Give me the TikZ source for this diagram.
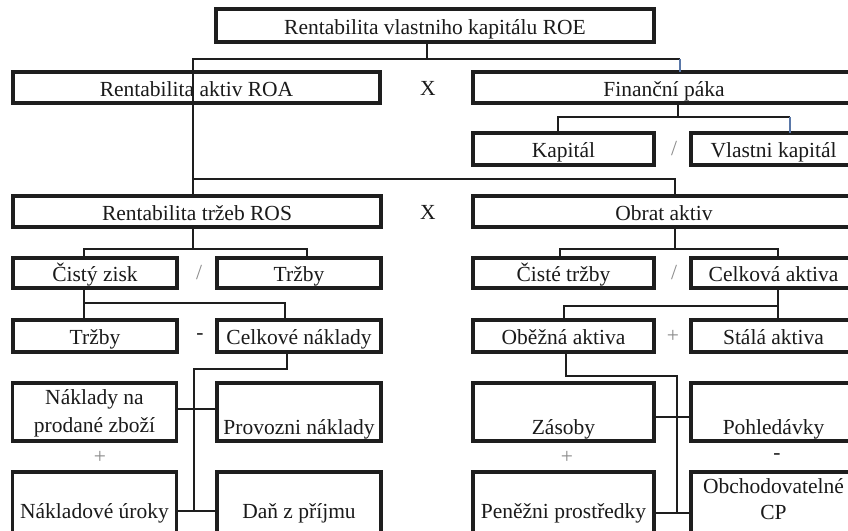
\documentclass[tikz,border=0pt]{standalone}
\usepackage{fontspec}
\setmainfont{Liberation Serif}
\definecolor{txt}{HTML}{1A1A1A}
\definecolor{ln}{HTML}{1E1E1E}
\definecolor{bl}{HTML}{5A78A8}
\definecolor{op}{HTML}{8A8A8A}
\begin{document}
\begin{tikzpicture}[x=1pt,y=-1pt,
  box/.style={draw=ln, line width=3.4pt, inner sep=0pt, outer sep=0pt, text=txt,
              font=\fontsize{21.5}{26}\selectfont, text height=21pt, text depth=3.5pt},
  wL/.style={minimum width=164pt},
  wR/.style={minimum width=181pt},
  wRR/.style={minimum width=165pt},
  rowA/.style={minimum height=31pt},
  rowB/.style={minimum height=30pt},
  rowC/.style={minimum height=32pt},
  lowtxt/.style={text height=51pt, text depth=7pt},
  bottxt/.style={text height=46pt, text depth=27pt},
  conn/.style={draw=ln, line width=1.6pt},
  connb/.style={draw=bl, line width=1.6pt},
  opx/.style={text=txt, font=\fontsize{21.5}{26}\selectfont, inner sep=0pt},
  opg/.style={text=op, font=\fontsize{21.5}{26}\selectfont, inner sep=0pt}]
\useasboundingbox (0,0) rectangle (848,530);
\clip (0,0) rectangle (848,530);
\fill[white] (0,0) rectangle (848,530);

% row 0
\node[box, minimum width=438pt, minimum height=33pt] (roe) at (435,25.5) {Rentabilita vlastniho kapitálu ROE};
% row 1
\node[box, rowA, minimum width=367pt] (roa) at (196.5,87.5) {Rentabilita aktiv ROA};
\node[box, rowA, minimum width=382pt] (fin) at (664,87.5) {Finanční páka};
\node[opx] (x1) at (428,88) {X};
% row 2
\node[box, rowC, wR] (kap) at (563.5,149) {Kapitál};
\node[box, rowC, wRR] (vk) at (773.5,149) {Vlastni kapitál};
\node[opg] (d1) at (674,149) {/};
% row 3
\node[box, rowA, minimum width=368pt] (ros) at (197,211.5) {Rentabilita tržeb ROS};
\node[box, rowA, minimum width=382pt] (obrat) at (664,211.5) {Obrat aktiv};
\node[opx] (x2) at (428,212) {X};
% row 4
\node[box, rowB, wL] (cz) at (95,273) {Čistý zisk};
\node[box, rowB, wL] (trz) at (299,273) {Tržby};
\node[opg] (d2) at (199,273) {/};
\node[box, rowB, wR] (ct) at (563.5,273) {Čisté tržby};
\node[box, rowB, wRR] (ca) at (773.5,273) {Celková aktiva};
\node[opg] (d3) at (674,273) {/};
% row 5
\node[box, rowC, wL] (trz2) at (95,336) {Tržby};
\node[box, rowC, wL] (cn) at (299,336) {Celkové náklady};
\node[opx] (m1) at (200,337) {-};
\node[box, rowC, wR] (ob) at (563.5,336) {Oběžná aktiva};
\node[box, rowC, wRR] (sa) at (773.5,336) {Stálá aktiva};
\node[opg] (p1) at (673,336) {+};
% row 6
\node[box, wL, text height=21pt, text depth=37pt] (nak) at (94.5,412)
  {\begin{tabular}[t]{@{}c@{}}Náklady na\\[2pt]prodané zboží\end{tabular}};
\node[box, wL, lowtxt] (prov) at (299,412) {Provozni náklady};
\node[box, wR, lowtxt] (zas) at (563.5,412) {Zásoby};
\node[box, wRR, lowtxt] (poh) at (773.5,412) {Pohledávky};
\node[opg] (p2) at (100,457) {+};
\node[opg] (p3) at (567,457) {+};
\node[opx] (m2) at (777,457) {-};
% row 7
\node[box, wL, bottxt] (nu) at (94.5,508.5) {Nákladové úroky};
\node[box, wL, bottxt] (dan) at (299,508.5) {Daň z příjmu};
\node[box, wR, bottxt] (pen) at (563.5,508.5) {Peněžni prostředky};
\node[box, wRR, text height=21pt, text depth=52pt] (obch) at (773.5,508.5)
  {\begin{tabular}[t]{@{}c@{}}Obchodovatelné\\CP\end{tabular}};

% connectors
\coordinate (jA) at (427,59);
\coordinate (jB) at (680,59);
\draw[conn] (427,0 |- roe.south) -- (jA);
\draw[conn] (jA) -| (193,0 |- ros.north);
\draw[conn] (jA) -- (jB);
\draw[connb] (jB) -- (680,0 |- fin.north);

\coordinate (jC) at (193,179);
\draw[conn] (jC) -| (675,0 |- obrat.north);

\coordinate (jD) at (678,117);
\coordinate (jD2) at (790,117);
\draw[conn] (678,0 |- fin.south) -- (jD);
\draw[conn] (jD) -| (558,0 |- kap.north);
\draw[conn] (jD) -- (jD2);
\draw[connb] (jD2) -- (790,0 |- vk.north);

\coordinate (jE) at (193,249);
\draw[conn] (193,0 |- ros.south) -- (jE);
\draw[conn] (84,0 |- cz.north) |- (307,249) -- (307,0 |- trz.north);

\draw[conn] (675,0 |- obrat.south) -- (675,249);
\draw[conn] (560,0 |- ct.north) |- (778,249) -- (778,0 |- ca.north);

\draw[conn] (84,0 |- cz.south) -- (84,0 |- trz2.north);
\draw[conn] (84,303) -| (285,0 |- cn.north);

\draw[conn] (778,0 |- ca.south) -- (778,0 |- sa.north);
\draw[conn] (778,306) -| (564,0 |- ob.north);

\draw[conn] (287,0 |- cn.south) |- (194,369) -- (194,511);
\draw[conn] (nak.east |- 0,409) -- (prov.west |- 0,409);
\draw[conn] (nu.east |- 0,511) -- (dan.west |- 0,511);

\draw[conn] (566,0 |- ob.south) |- (677,376) -- (677,513);
\draw[conn] (zas.east |- 0,417) -- (poh.west |- 0,417);
\draw[conn] (pen.east |- 0,513) -- (obch.west |- 0,513);
\end{tikzpicture}
\end{document}
